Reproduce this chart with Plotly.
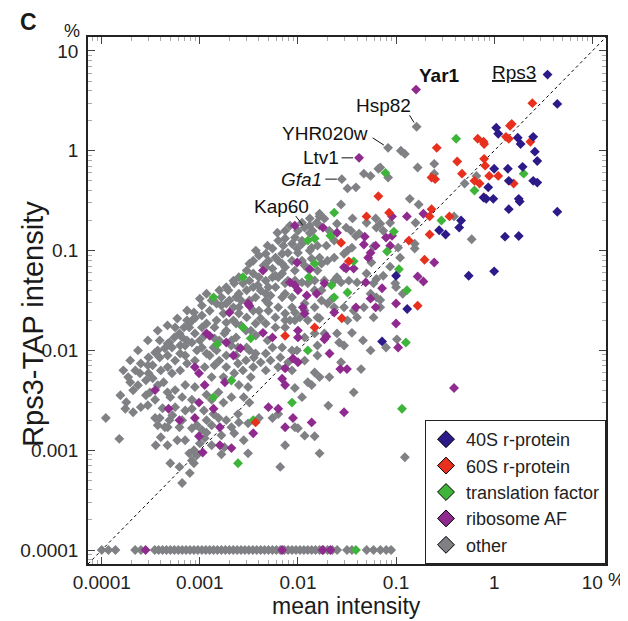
import math
import plotly.graph_objects as go

FONT = "Liberation Sans, Arial, Helvetica, sans-serif"

# ---------------- data (values in %) ----------------
FLOOR = 0.0001  # undetected proteins are plotted at the axis floor

r40s_x = [3.5, 4.4, 1.05, 1.1, 1.74, 1.86, 2.5, 2.6, 2.75, 1.0,
          1.38, 1.95, 2.5, 2.75, 1.41, 0.87, 0.78, 1.78, 0.83, 0.98,
          1.41, 1.82, 4.4, 0.46, 0.44, 0.275, 0.32, 1.29, 1.78, 0.55,
          1.0, 0.1, 0.13, 0.072]
r40s_y = [5.8, 2.95, 1.7, 1.48, 1.35, 1.17, 1.38, 0.98, 0.79, 0.66,
          0.66, 0.69, 0.5, 0.48, 0.5, 0.43, 0.34, 0.33, 0.33, 0.33,
          0.26, 0.31, 0.245, 0.2, 0.17, 0.16, 0.145, 0.138, 0.14, 0.056,
          0.062, 0.056, 0.026, 0.0123]

r60s_x = [2.45, 1.51, 1.45, 0.26, 0.68, 0.78, 0.79, 1.32, 1.41, 2.34,
          0.42, 0.47, 0.79, 0.81, 0.89, 1.1, 0.63, 0.71, 0.23, 0.25,
          0.066, 1.58, 0.79, 0.085, 0.05, 0.23, 0.22, 0.35, 0.22, 0.0275,
          0.135, 0.033, 0.195, 0.166, 0.028, 0.0148, 0.0074, 0.0037]
r60s_y = [3.0, 1.86, 1.78, 1.07, 1.32, 1.23, 1.17, 1.38, 1.32, 1.23,
          0.78, 0.59, 0.83, 0.71, 0.56, 0.56, 0.5, 0.47, 0.54, 0.52,
          0.35, 0.47, 0.34, 0.24, 0.22, 0.26, 0.22, 0.22, 0.145, 0.12,
          0.126, 0.078, 0.081, 0.028, 0.021, 0.017, 0.014, 0.0019]

tf_x = [0.41, 0.078, 2.0, 0.63, 0.0234, 0.29, 0.095, 0.0214, 0.081, 0.037,
        0.107, 0.129, 0.032, 0.0129, 0.0126, 0.126, 0.115, 0.0148, 0.0126, 0.0148,
        0.022, 0.0234, 0.00138, 0.0033, 0.00275, 0.00275, 0.0015, 0.0021, 0.00138, 0.0035,
        0.00245, 0.0087, 0.039]
tf_y = [1.32, 0.6, 0.59, 0.4, 0.24, 0.2, 0.155, 0.141, 0.098, 0.078,
        0.065, 0.04, 0.038, 0.054, 0.01, 0.012, 0.0026, 0.132, 0.126, 0.074,
        0.045, 0.034, 0.034, 0.0132, 0.054, 0.017, 0.0115, 0.005, 0.0034, 0.002,
        0.00074, 0.003, 0.0001]

raf_x = [0.16, 0.042, 0.129, 0.19, 0.091, 0.245, 0.166, 0.19, 0.072, 0.062,
         0.1, 0.105, 0.39, 0.0295, 0.0138, 0.021, 0.027, 0.0316, 0.047, 0.052,
         0.037, 0.031, 0.049, 0.025, 0.018, 0.0117, 0.0195, 0.091, 0.062, 0.0093,
         0.048, 0.079, 0.055, 0.087, 0.0295, 0.0132, 0.0083, 0.0093, 0.0186, 0.055,
         0.039, 0.1, 0.0031, 0.0098, 0.0044, 0.01, 0.0123, 0.0155, 0.0112, 0.0044,
         0.0055, 0.01, 0.01, 0.0074, 0.00089, 0.00186, 0.00126, 0.0026, 0.002, 0.0032,
         0.00117, 0.00098, 0.0022, 0.00112, 0.00098, 0.00048, 0.00062, 0.00089, 0.00138, 0.00098,
         0.0016, 0.0021, 0.00107, 0.0035, 0.0016, 0.00035, 0.0018, 0.01, 0.0186, 0.0089,
         0.0074, 0.005, 0.0063, 0.0069, 0.0089, 0.0234, 0.0074,
         0.00028, 0.0069, 0.0178, 0.0214]
raf_y = [4.1, 0.85, 0.22, 0.234, 0.22, 0.076, 0.055, 0.049, 0.042, 0.027,
         0.0186, 0.0107, 0.0042, 0.0024, 0.0019, 0.0093, 0.0065, 0.0065, 0.115, 0.085,
         0.066, 0.066, 0.048, 0.151, 0.17, 0.0234, 0.0138, 0.141, 0.112, 0.178,
         0.138, 0.135, 0.095, 0.112, 0.068, 0.065, 0.048, 0.045, 0.047, 0.033,
         0.027, 0.0295, 0.0295, 0.076, 0.063, 0.04, 0.0355, 0.037, 0.027, 0.015,
         0.0135, 0.0135, 0.0076, 0.0066, 0.0068, 0.012, 0.014, 0.0105, 0.024, 0.028,
         0.0148, 0.0059, 0.0089, 0.0045, 0.003, 0.0026, 0.002, 0.0021, 0.0026, 0.00138,
         0.00112, 0.00105, 0.00095, 0.00148, 0.0017, 0.004, 0.0048, 0.0158, 0.0129, 0.0021,
         0.0017, 0.0027, 0.0026, 0.0052, 0.0083, 0.024, 0.0045,
         0.0001, 0.0001, 0.0001, 0.0001]

other_x = [0.162, 0.083, 0.112, 0.123, 0.166, 0.245, 0.245, 0.047, 0.055, 0.066,
           0.083, 0.028, 0.032, 0.039, 0.138, 0.5, 0.66, 0.0275, 0.17, 0.036,
           0.05, 0.062, 0.063, 0.0166, 0.0155, 0.032, 0.039, 0.059, 0.158, 0.39,
           0.59, 0.155, 0.155, 0.087, 0.063, 0.074, 0.1, 0.117, 0.063, 0.069,
           0.046, 0.055, 0.0355, 0.0295, 0.079, 0.102, 0.044, 0.037, 0.0204, 0.0158,
           0.0148, 0.0126, 0.0174, 0.0234, 0.0275, 0.0126, 0.0224, 0.0166, 0.032, 0.0166,
           0.0066, 0.123, 0.0209, 0.0117, 0.0138, 0.0093, 0.011, 0.01, 0.0117, 0.0148,
           0.0074, 0.0275, 0.025, 0.0263, 0.0186, 0.0158, 0.0083, 0.0105, 0.00166, 0.0005,
           0.00062, 0.00087, 0.00079, 0.00066, 0.00093, 0.00087, 0.001, 0.00011, 0.000174, 0.000151,
           0.0004, 0.00117, 0.00047, 0.00035, 0.00025, 0.0025, 0.0031, 0.004, 0.0055, 0.0063,
           0.0093, 0.00186, 0.00138, 0.000195, 0.000245, 0.00033, 0.00039, 0.00044, 0.00049, 0.00062,
           0.00078, 0.00031, 0.00035, 0.00039, 0.00044, 0.0005, 0.00056, 0.00066, 0.00071, 0.00083,
           0.00056, 0.0011, 0.00117, 0.00105, 0.00083, 0.00132, 0.00155, 0.0021, 0.00245, 0.00155,
           0.00174, 0.0021, 0.0028, 0.0032, 0.00052, 0.00063, 0.00074, 0.00089, 0.00071, 0.00056,
           0.00047, 0.00052, 0.00063, 0.00083, 0.00105, 0.00126, 0.00141, 0.00158, 0.00186, 0.00245,
           0.00275, 0.0033, 0.0031, 0.0025, 0.00224, 0.00174, 0.00132, 0.00112, 0.00117, 0.00089,
           0.00071, 0.00083, 0.00105, 0.00141, 0.00178, 0.0021, 0.00245, 0.0032, 0.00355, 0.00089,
           0.00066, 0.00056, 0.00039, 0.00062, 0.00049, 0.00224, 0.0028, 0.0031, 0.00178, 0.00112,
           0.00083, 0.00078, 0.0035, 0.003, 0.0025, 0.00224, 0.00195, 0.00166, 0.00148, 0.00126,
           0.00105, 0.00089, 0.00078, 0.00069, 0.002, 0.00234, 0.0022, 0.0025, 0.003, 0.0035,
           0.0032, 0.003, 0.0035, 0.00174, 0.00148, 0.00117, 0.00186, 0.00234, 0.0035, 0.0032,
           0.0166, 0.0132, 0.011, 0.0083, 0.0063, 0.0074, 0.0087, 0.011, 0.0055, 0.0047,
           0.004, 0.0022, 0.00186, 0.00158, 0.00117, 0.001, 0.00087, 0.00074, 0.00055, 0.00047,
           0.00035, 0.0003, 0.00025, 0.00022, 0.000186, 0.0063, 0.0079, 0.01, 0.0138, 0.0166,
           0.0117, 0.0093, 0.0074, 0.0055, 0.0047, 0.0063, 0.0079, 0.0126, 0.0158, 0.004,
           0.0025, 0.0037, 0.0047, 0.0059, 0.0069, 0.0087, 0.0117, 0.0148, 0.0158, 0.0126,
           0.0093, 0.0074, 0.0063, 0.005, 0.004, 0.0025, 0.00186, 0.0022, 0.0037, 0.0047,
           0.0059, 0.0074, 0.0087, 0.0069, 0.0055, 0.0047, 0.0037, 0.003, 0.00234, 0.00186,
           0.00158, 0.00138, 0.00117, 0.001, 0.00074, 0.00063, 0.00047, 0.0004, 0.0003, 0.0117,
           0.0148, 0.0087, 0.0063, 0.0047, 0.0035, 0.0166, 0.01, 0.0071, 0.0117, 0.0141,
           0.069, 0.069, 0.074, 0.031, 0.025, 0.0166, 0.0132, 0.011, 0.0158, 0.0132,
           0.0098, 0.0069, 0.0059, 0.005, 0.0047, 0.0069, 0.0087, 0.011, 0.0138, 0.0069,
           0.0055, 0.0032, 0.00275, 0.0039, 0.005, 0.0074, 0.011, 0.0148, 0.0074, 0.0047,
           0.005, 0.0087, 0.0174, 0.02, 0.0174, 0.0347, 0.042, 0.0355, 0.056, 0.05,
           0.059, 0.055, 0.098, 0.11, 0.105, 0.087, 0.025, 0.02, 0.0234, 0.0295,
           0.033, 0.04, 0.0234, 0.0295, 0.037, 0.047, 0.069, 0.059, 0.04,
           # denser core of the cloud
           0.000155, 0.000178, 0.000209, 0.000234, 0.000282, 0.000331, 0.000372, 0.000427, 0.000468, 0.000282,
           0.000209, 0.000295, 0.000417, 0.000525, 0.000661, 0.000933, 0.00132, 0.00166, 0.00132, 0.000589,
           0.000708, 0.000468, 0.000372, 0.000355, 0.000708, 0.000933, 0.00148, 0.00186, 0.00234, 0.00295,
           0.00417, 0.00525, 0.00661, 0.00794, 0.00977, 0.0049, 0.00372, 0.00295, 0.00141, 0.00112,
           0.000832, 0.00105, 0.00132, 0.00166, 0.00263, 0.00417, 0.00525, 0.00589, 0.00447, 0.00372,
           0.0049, 0.00741, 0.00617, 0.00933, 0.0132, 0.0186, 0.0209, 0.0195, 0.0234, 0.0186,
           0.0148, 0.00933, 0.0117, 0.00933, 0.00741, 0.00589, 0.00417, 0.00331, 0.00263, 0.00209,
           0.000741, 0.000589, 0.000468, 0.000372, 0.000295, 0.000234, 0.000195, 0.000166, 0.000372, 0.000295]
other_y = [1.74, 1.07, 1.0, 0.93, 0.68, 0.74, 0.59, 0.59, 0.56, 0.66,
           0.54, 0.52, 0.42, 0.43, 0.33, 0.47, 0.56, 0.29, 0.29, 0.21,
           0.19, 0.21, 0.17, 0.22, 0.19, 0.1, 0.14, 0.11, 0.19, 0.22,
           0.13, 0.117, 0.105, 0.069, 0.052, 0.056, 0.043, 0.037, 0.034, 0.032,
           0.0126, 0.01, 0.015, 0.0112, 0.0107, 0.0129, 0.0065, 0.0038, 0.0028, 0.0089,
           0.006, 0.0048, 0.074, 0.05, 0.048, 0.047, 0.033, 0.021, 0.02, 0.00093,
           0.00068, 0.00085, 0.0054, 0.0079, 0.0045, 0.0042, 0.0034, 0.00166, 0.0014, 0.00138,
           0.00112, 0.0076, 0.0148, 0.012, 0.0148, 0.0112, 0.02, 0.0214, 0.00091, 0.00074,
           0.00068, 0.00074, 0.00059, 0.00047, 0.00089, 0.001, 0.00117, 0.0021, 0.0026, 0.0013,
           0.00135, 0.0015, 0.0017, 0.0021, 0.0027, 0.0019, 0.00186, 0.0021, 0.0021, 0.0023,
           0.0017, 0.002, 0.0023, 0.0048, 0.0059, 0.0071, 0.0085, 0.0105, 0.012, 0.0148,
           0.017, 0.0038, 0.0032, 0.0021, 0.0017, 0.0034, 0.004, 0.0034, 0.0025, 0.0026,
           0.0027, 0.0025, 0.002, 0.0016, 0.00166, 0.0032, 0.0021, 0.0017, 0.0023, 0.0038,
           0.003, 0.0034, 0.0034, 0.003, 0.0059, 0.0063, 0.0074, 0.0079, 0.0089, 0.0079,
           0.0089, 0.0107, 0.0112, 0.012, 0.0107, 0.0089, 0.0071, 0.0079, 0.0068, 0.0074,
           0.0063, 0.0054, 0.0043, 0.0045, 0.0059, 0.0054, 0.0054, 0.0068, 0.0036, 0.0043,
           0.0045, 0.0032, 0.017, 0.017, 0.0148, 0.0126, 0.0107, 0.01, 0.0085, 0.0148,
           0.0135, 0.017, 0.0126, 0.0017, 0.002, 0.00148, 0.00126, 0.00093, 0.00107, 0.00132,
           0.00079, 0.00093, 0.079, 0.063, 0.054, 0.047, 0.04, 0.034, 0.0295, 0.025,
           0.0224, 0.021, 0.0186, 0.017, 0.0316, 0.034, 0.027, 0.0234, 0.04, 0.043,
           0.0316, 0.0214, 0.025, 0.0234, 0.02, 0.0186, 0.019, 0.0186, 0.059, 0.074,
           0.234, 0.21, 0.19, 0.178, 0.126, 0.132, 0.117, 0.117, 0.105, 0.093,
           0.089, 0.05, 0.043, 0.04, 0.037, 0.033, 0.024, 0.02, 0.0135, 0.0117,
           0.0095, 0.0085, 0.0074, 0.0063, 0.0054, 0.079, 0.095, 0.095, 0.107, 0.085,
           0.071, 0.063, 0.068, 0.066, 0.05, 0.054, 0.05, 0.066, 0.063, 0.054,
           0.037, 0.034, 0.037, 0.043, 0.034, 0.034, 0.0295, 0.027, 0.0214, 0.02,
           0.02, 0.0234, 0.027, 0.0295, 0.025, 0.027, 0.0295, 0.02, 0.0186, 0.0186,
           0.017, 0.017, 0.01, 0.0107, 0.0107, 0.0093, 0.0093, 0.0107, 0.0135, 0.0158,
           0.0126, 0.0107, 0.0093, 0.0126, 0.0126, 0.0093, 0.0068, 0.0063, 0.0059, 0.0135,
           0.0148, 0.0063, 0.0068, 0.0063, 0.0068, 0.0054, 0.158, 0.112, 0.17, 0.158,
           0.68, 0.186, 0.158, 0.17, 0.186, 0.178, 0.15, 0.126, 0.112, 0.1,
           0.105, 0.093, 0.085, 0.079, 0.068, 0.074, 0.079, 0.079, 0.083, 0.059,
           0.054, 0.05, 0.047, 0.045, 0.043, 0.047, 0.048, 0.04, 0.037, 0.0316,
           0.025, 0.027, 0.0316, 0.0295, 0.04, 0.158, 0.148, 0.107, 0.076, 0.059,
           0.047, 0.037, 0.047, 0.085, 0.107, 0.19, 0.054, 0.079, 0.085, 0.093,
           0.05, 0.048, 0.027, 0.027, 0.025, 0.027, 0.027, 0.0214, 0.0214,
           # denser core of the cloud
           0.00355, 0.00302, 0.00398, 0.00447, 0.00501, 0.00525, 0.00447, 0.00479, 0.0038, 0.00355,
           0.0024, 0.00282, 0.00263, 0.00224, 0.002, 0.00178, 0.00178, 0.00141, 0.00112, 0.00126,
           0.00126, 0.00112, 0.00178, 0.00112, 0.0112, 0.01, 0.01, 0.00891, 0.00891, 0.00794,
           0.00759, 0.00794, 0.00851, 0.00759, 0.01, 0.0126, 0.0141, 0.0158, 0.0132, 0.0141,
           0.02, 0.0282, 0.0316, 0.0282, 0.0316, 0.0398, 0.0355, 0.0562, 0.0708, 0.1,
           0.112, 0.158, 0.151, 0.135, 0.178, 0.209, 0.158, 0.112, 0.126, 0.0501,
           0.0501, 0.0501, 0.0251, 0.024, 0.02, 0.0214, 0.0209, 0.0158, 0.0178, 0.0112,
           0.0251, 0.0209, 0.0178, 0.0158, 0.0126, 0.01, 0.00794, 0.00631, 0.01, 0.00708]

# "other" proteins not detected in Rps3-TAP (plotted on the floor)
other_floor_x = [0.0001, 0.000117, 0.000138, 0.000219, 0.000251, 0.000347, 0.00038, 0.000417, 0.000457, 0.000501,
                 0.00055, 0.000603, 0.000661, 0.000724, 0.000794, 0.000871, 0.000955, 0.00105, 0.00115, 0.00126,
                 0.00138, 0.00151, 0.00166, 0.00182, 0.002, 0.00219, 0.0024, 0.00263, 0.00288, 0.00316,
                 0.00347, 0.0038, 0.00417, 0.00457, 0.00501, 0.0055, 0.00603, 0.00661, 0.00724, 0.00794,
                 0.00871, 0.00955, 0.0105, 0.0115, 0.0126, 0.0138, 0.0151, 0.0166, 0.0182, 0.02,
                 0.0224, 0.0251, 0.0316, 0.0355, 0.0501, 0.0589, 0.0692, 0.0794, 0.0891]
other_floor_y = [FLOOR for _ in other_floor_x]

label_names = ["<b>Yar1</b>", "<u>Rps3</u>", "Hsp82", "YHR020w", "Ltv1", "<i>Gfa1</i>", "Kap60"]
label_x = [0.16, 3.5, 0.162, 0.083, 0.042, 0.028, 0.0117]
label_y = [4.1, 5.8, 1.74, 1.07, 0.85, 0.52, 0.17]

tick_vals = [0.0001, 0.001, 0.01, 0.1, 1, 10]
tick_text = ["0.0001", "0.001", "0.01", "0.1", "1", "10"]

categories = ["40S r-protein", "60S r-protein", "translation factor", "ribosome AF", "other"]
colors = {"40S r-protein": "#2b1a88", "60S r-protein": "#e8301e",
          "translation factor": "#3fb43a", "ribosome AF": "#8f2b8f", "other": "#7f8184"}

LOG_LO, LOG_HI = -4.14, 1.14

# ---------------- figure ----------------
fig = go.Figure()

# identity line (y = x) spanning the full axis range
fig.add_trace(go.Scatter(x=[10 ** LOG_LO, 10 ** LOG_HI], y=[10 ** LOG_LO, 10 ** LOG_HI],
                         mode="lines", line=dict(color="black", width=1, dash="dot"),
                         showlegend=False, hoverinfo="skip"))

MS = 7.6
series = [
    ("other", other_x + other_floor_x, other_y + other_floor_y),
    ("ribosome AF", raf_x, raf_y),
    ("translation factor", tf_x, tf_y),
    ("60S r-protein", r60s_x, r60s_y),
    ("40S r-protein", r40s_x, r40s_y),
]
for name, xs, ys in series:
    fig.add_trace(go.Scatter(x=xs, y=ys, mode="markers", name=name, showlegend=False,
                             marker=dict(symbol="diamond", size=MS, color=colors[name],
                                         line=dict(width=0))))

# legend entries (outlined symbols)
for name in categories:
    fig.add_trace(go.Scatter(x=[None], y=[None], mode="markers", name=name,
                             marker=dict(symbol="diamond", size=13, color=colors[name],
                                         line=dict(color="black", width=1))))

axis_common = dict(
    type="log", showgrid=False, zeroline=False,
    showline=True, linecolor="#222", linewidth=1.5, mirror="allticks",
    ticks="inside", ticklen=7, tickwidth=1, tickcolor="#444",
    tickvals=tick_vals, ticktext=tick_text,
    tickfont=dict(family=FONT, size=19, color="#222"),
    minor=dict(ticks="inside", ticklen=4, tickwidth=1, tickcolor="#aaa",
               tickmode="linear", dtick="D1", showgrid=False),
)
fig.update_xaxes(range=[LOG_LO, LOG_HI], ticklabelstandoff=0, **axis_common)
fig.update_yaxes(range=[LOG_LO, LOG_HI], ticklabelstandoff=4, **axis_common)

# label annotations and connectors
text_off = {  # (xshift, yshift, xanchor)
    "<b>Yar1</b>": (1, 14, "left"),
    "<u>Rps3</u>": (-10, 2, "right"),
    "Hsp82": (-4, 21, "right"),
    "YHR020w": (-18, 14, "right"),
    "Ltv1": (-18, 0, "right"),
    "<i>Gfa1</i>": (-18, 0, "right"),
    "Kap60": (-23, 21, "center"),
}
connector = {  # (ax, ay, standoff)
    "Hsp82": (-8, -13, 5),
    "YHR020w": (-17, -11, 5),
    "Ltv1": (-19, 0, 6),
    "<i>Gfa1</i>": (-18, 0, 5),
    "Kap60": (-10, -13, 3),
}
for nm, lx, ly in zip(label_names, label_x, label_y):
    xs, ys, xa = text_off[nm]
    fig.add_annotation(x=math.log10(lx), y=math.log10(ly), xref="x", yref="y",
                       text=nm, showarrow=False, xshift=xs, yshift=ys, xanchor=xa,
                       yanchor="middle", font=dict(family=FONT, size=19, color="#111"))
    if nm in connector:
        ax, ay, so = connector[nm]
        fig.add_annotation(x=math.log10(lx), y=math.log10(ly), xref="x", yref="y",
                           text="", showarrow=True, ax=ax, ay=ay, arrowhead=0,
                           arrowwidth=1, arrowcolor="#111", standoff=so)

# panel letter, units, axis titles
paper_text = [
    (-0.114, 1.0285, "<b>C</b>", 23, 0),
    (-0.030, 1.012, "%", 18, 0),
    (1.021, -0.030, "%", 19, 0),
    (0.499, -0.080, "mean intensity", 23, 0),
    (-0.105, 0.455, "Rps3-TAP intensity", 29, -90),
]
for px_, py_, txt, sz, ang in paper_text:
    fig.add_annotation(x=px_, y=py_, xref="paper", yref="paper", text=txt,
                       xanchor="center", yanchor="middle", textangle=ang,
                       showarrow=False, font=dict(family=FONT, size=sz, color="#1a1a1a"))

# the page body has an 8px margin; size/margins are set so the plot frame
# lands at x 79..606, y 37..564 in the 628x621 window
fig.update_layout(
    width=620, height=613, autosize=False,
    margin=dict(l=71, r=22, t=29, b=57),
    paper_bgcolor="white", plot_bgcolor="white",
    legend=dict(x=1, y=0, xanchor="right", yanchor="bottom", bgcolor="white",
                bordercolor="#222", borderwidth=1, itemwidth=30, tracegroupgap=0,
                font=dict(family=FONT, size=18, color="#222"), traceorder="normal"),
)

fig.write_html("out.html")
